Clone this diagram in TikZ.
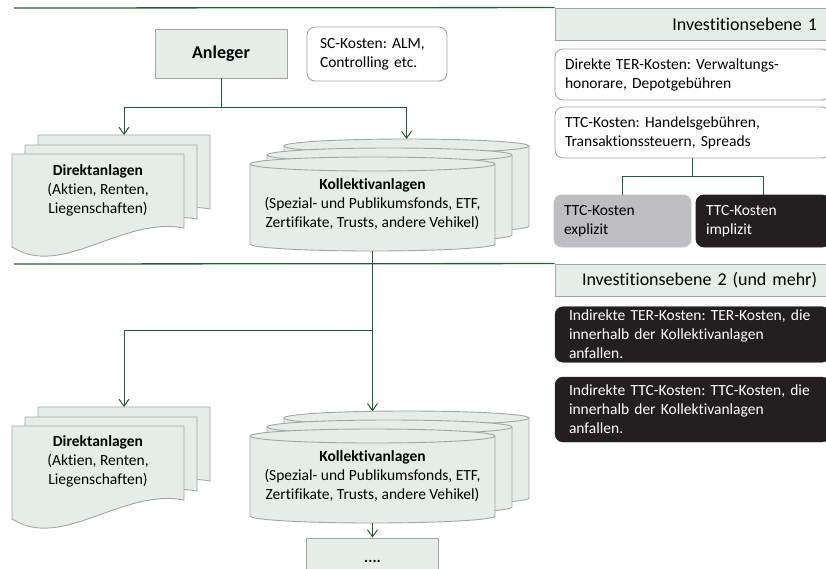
\documentclass[tikz,border=0pt]{standalone}
\usepackage{fontspec}
\setmainfont{Carlito}[Ligatures=NoCommon]
\usetikzlibrary{positioning}
\usetikzlibrary{calc}
\usetikzlibrary{arrows.meta}
\definecolor{linegreen}{RGB}{30,94,52}
\definecolor{boxgreen}{RGB}{228,237,231}
\definecolor{boxborder}{RGB}{164,164,164}
\definecolor{boxblack}{RGB}{35,31,32}
\definecolor{boxgrey}{RGB}{190,190,194}
\newcommand{\bodyfont}{\fontsize{15.5}{19}\selectfont\frenchspacing}
\newcommand{\headfont}{\fontsize{18}{21}\selectfont}
\tikzset{
        shapeline/.style={draw=boxborder,fill=boxgreen,line width=0.9pt},
        conn/.style={draw=linegreen,line width=1pt},
        arr/.style={conn,-{Straight Barb[length=7pt,width=10pt]}},
        sepline/.style={draw=linegreen,line width=1.3pt},
        headbox/.style={draw=boxborder,fill=boxgreen,line width=0.9pt,font=\headfont,
                align=right,text width=249pt,inner xsep=13pt,minimum height=32pt},
        costbox/.style={draw=boxborder,fill=white,line width=0.9pt,rounded corners=8pt,
                font=\bodyfont,align=left,inner xsep=10pt},
        darkbox/.style={draw=boxblack,fill=boxblack,text=white,rounded corners=8pt,
                font=\bodyfont,align=left,inner xsep=14pt,text width=247pt},
        pics/docstack/.style={code={
                \foreach \dx/\dy in {26/-19,13/-9,0/0}
                        \path[shapeline,shift={(\dx,\dy)}] (0,0) -- (172,0) -- (172,74)
                                .. controls (110,62) and (50,125) .. (0,93) -- cycle;
                \coordinate (-top) at (112,-19);
        }},
        pics/cylstack/.style={code={
                \foreach \dx/\dy in {34/-18,17/-9,0/0} {
                        \path[shapeline,shift={(\dx,\dy)}] (0,7)
                                arc[start angle=180,end angle=360,x radius=122.5,y radius=7]
                                -- (245,87) arc[start angle=0,end angle=180,x radius=122.5,y radius=7] -- cycle;
                        \draw[boxborder,line width=0.9pt,shift={(\dx,\dy)}] (0,7)
                                arc[start angle=180,end angle=0,x radius=122.5,y radius=7];
                }
                \coordinate (-top) at (156.5,-18);
                \coordinate (-axis) at (122.5,-17.7);
                \coordinate (-bottom) at (122.5,94);
        }},
}
\begin{document}
\begin{tikzpicture}[x=1pt,y=-1pt]

        \clip (0,0) rectangle (826,568);

        % level headers....................
        \node [headbox] (ebene1) at (692.5,24) {Investitionsebene 1};
        \node [headbox] (ebene2) at (692.5,280) {Investitionsebene 2 (und mehr)};
        \coordinate (rule1) at (14,8);
        \coordinate (rule2) at (14,264);
        \draw [sepline] (rule1) -- (ebene1.north west);
        \draw [sepline] (rule2) -- (ebene2.north west);

        % investor.........................
        \node [shapeline,minimum width=132pt,minimum height=49pt,font=\headfont\bfseries]
                (anleger) at (221,53.5) {Anleger};
        \node [costbox,text width=114pt,inner xsep=13pt,minimum height=54pt]
                (sckosten) at (377,54) {SC-Kosten: ALM,\\Controlling etc.};

        % level 1 shapes...................
        \pic (direkt1) at (12,154) {docstack};
        \node [font=\bodyfont,align=center] (direkttext1) at (98,190)
                {\textbf{Direktanlagen}\\(Aktien, Renten,\\Liegenschaften)};
        \pic (kollektiv1) at (250,157) {cylstack};
        \node [font=\bodyfont,align=center] (kollektivtext1) at (372.5,204)
                {\textbf{Kollektivanlagen}\\(Spezial- und Publikumsfonds, ETF,\\Zertifikate, Trusts, andere Vehikel)};

        % level 2 shapes...................
        \pic (direkt2) at (12,426) {docstack};
        \node [font=\bodyfont,align=center] (direkttext2) at (98,461)
                {\textbf{Direktanlagen}\\(Aktien, Renten,\\Liegenschaften)};
        \pic (kollektiv2) at (250,429) {cylstack};
        \node [font=\bodyfont,align=center] (kollektivtext2) at (372.5,476)
                {\textbf{Kollektivanlagen}\\(Spezial- und Publikumsfonds, ETF,\\Zertifikate, Trusts, andere Vehikel)};
        \node [shapeline,minimum width=132pt,minimum height=46pt,font=\bodyfont\bfseries]
                (weitere) at (372.5,561) {....};

        % connectors level 1...............
        \coordinate (split1) at ($(anleger.south)+(0,29)$);
        \draw [conn] (anleger.south) -- (split1);
        \draw [arr] (split1) -| (direkt1-top);
        \draw [arr] (split1) -| (kollektiv1-top);

        % connectors level 2...............
        \coordinate (split2) at (372.5,330);
        \draw [conn] (kollektiv1-bottom) -- (split2);
        \draw [arr] (split2) -| (direkt2-top);
        \draw [arr] (split2) -- (kollektiv2-axis);
        \draw [arr] (kollektiv2-bottom) -- (weitere.north);

        % cost boxes level 1...............
        \node [costbox,text width=255pt,minimum height=51pt] (terdirekt) at (692.5,74.5)
                {Direkte TER-Kosten: Verwaltungs-\\honorare, Depotgebühren};
        \node [costbox,text width=255pt,minimum height=51pt] (ttc) at (692.5,132.5)
                {TTC-Kosten: Handelsgebühren,\\Transaktionssteuern, Spreads};
        \node [costbox,draw=boxgrey,fill=boxgrey,text width=117pt,minimum height=52pt]
                (explizit) at (622.5,221) {TTC-Kosten\\explizit};
        \node [costbox,draw=boxblack,fill=boxblack,text=white,text width=114pt,minimum height=52pt]
                (implizit) at (763,221) {TTC-Kosten\\implizit};
        \coordinate (ttcsplit) at ($(ttc.south)+(0,18)$);
        \draw [conn] (ttc.south) -- (ttcsplit);
        \draw [conn] (ttcsplit) -| (explizit.north);
        \draw [conn] (ttcsplit) -| (implizit.north);

        % cost boxes level 2...............
        \node [darkbox,minimum height=55pt] (terindirekt) at (692.5,334.5)
                {Indirekte TER-Kosten: TER-Kosten, die\\innerhalb der Kollektivanlagen\\anfallen.};
        \node [darkbox,minimum height=65pt] (ttcindirekt) at (692.5,409.5)
                {Indirekte TTC-Kosten: TTC-Kosten, die\\innerhalb der Kollektivanlagen\\anfallen.};
\end{tikzpicture}
\end{document}
